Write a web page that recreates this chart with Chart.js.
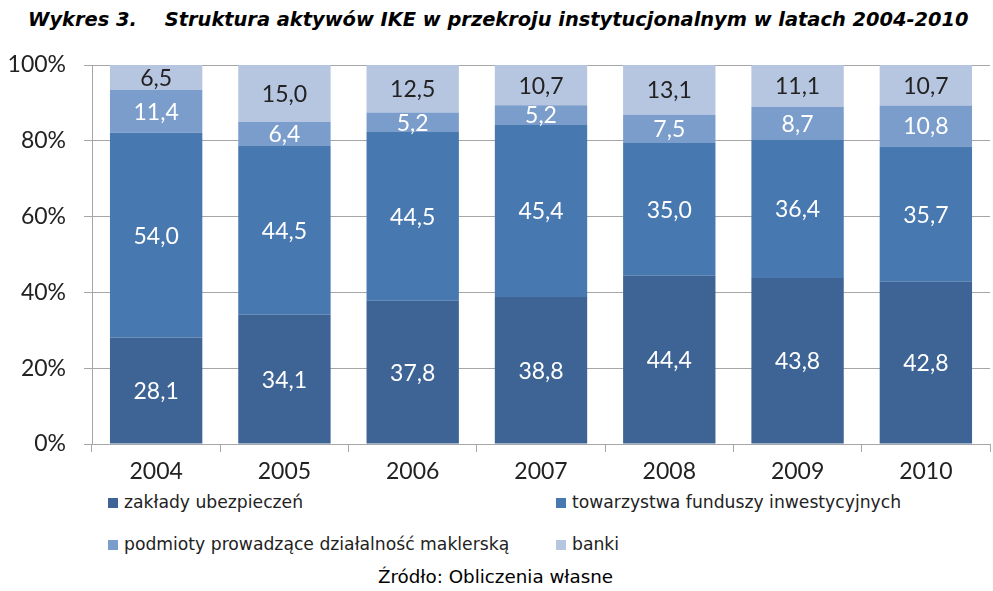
<!DOCTYPE html>
<html>
<head>
<meta charset="utf-8">
<script src="https://cdn.jsdelivr.net/npm/chart.js@4.4.1/dist/chart.umd.min.js"></script>
<style>
    body { margin: 0; background: #fff; }
    #wrap { position: relative; width: 993px; height: 591px; overflow: hidden; }
    #title {
        position: absolute; left: 28px; top: 8px; white-space: nowrap;
        font-family: "DejaVu Sans", sans-serif; font-weight: bold; font-style: italic;
        font-size: 19.4px; color: #000;
    }
    #title span { margin-left: 28px; }
    #chart { position: absolute; left: 0; top: 0; }
    .legend-item {
        position: absolute; white-space: nowrap;
        font-family: "DejaVu Sans", sans-serif; font-size: 17.2px; color: #222;
    }
    .legend-item i {
        display: inline-block; width: 10px; height: 10px; margin-right: 6px;
        vertical-align: 0px;
    }
    #source {
        position: absolute; left: 0; width: 991px; top: 566px; text-align: center;
        font-family: "DejaVu Sans", sans-serif; font-size: 18.3px; color: #000;
    }
</style>
</head>
<body>
<div id="wrap">
    <div id="title">Wykres 3.<span>Struktura aktywów IKE w przekroju instytucjonalnym w latach 2004-2010</span></div>
    <canvas id="chart" width="993" height="490"></canvas>
    <div id="legend"></div>
    <div id="source">Źródło: Obliczenia własne</div>
</div>
<script>
// Data (percent of assets)
const years = ['2004', '2005', '2006', '2007', '2008', '2009', '2010'];
const zaklady = [28.1, 34.1, 37.8, 38.8, 44.4, 43.8, 42.8];
const towarzystwa = [54.0, 44.5, 44.5, 45.4, 35.0, 36.4, 35.7];
const podmioty = [11.4, 6.4, 5.2, 5.2, 7.5, 8.7, 10.8];
const banki = [6.5, 15.0, 12.5, 10.7, 13.1, 11.1, 10.7];
const seriesNames = ['zakłady ubezpieczeń', 'towarzystwa funduszy inwestycyjnych',
    'podmioty prowadzące działalność maklerską', 'banki'];
const yTicks = [0, 20, 40, 60, 80, 100];

const colors = ['#3d6495', '#4878b0', '#7b9dcb', '#b6c5e0'];
const labelColors = ['#ffffff', '#ffffff', '#ffffff', '#222222'];

const chartFont = 'Lato, "Open Sans", sans-serif';

// Draws the value in the middle of every segment
const segmentLabels = {
    id: 'segmentLabels',
    afterDatasetsDraw(chart) {
        const ctx = chart.ctx;
        ctx.save();
        ctx.font = '23px ' + chartFont;
        ctx.textAlign = 'center';
        ctx.textBaseline = 'middle';
        chart.data.datasets.forEach((ds, i) => {
            const meta = chart.getDatasetMeta(i);
            meta.data.forEach((bar, j) => {
                const top = Math.max(bar.y, chart.chartArea.top);
                const mid = (top + bar.base) / 2;
                ctx.fillStyle = labelColors[i];
                ctx.fillText(ds.data[j].toFixed(1).replace('.', ','), bar.x, mid + 1);
            });
        });
        ctx.restore();
    }
};

const ctx = document.getElementById('chart').getContext('2d');
new Chart(ctx, {
    type: 'bar',
    data: {
        labels: years,
        datasets: [zaklady, towarzystwa, podmioty, banki].map((d, i) => ({
            label: seriesNames[i],
            data: d,
            backgroundColor: colors[i],
            borderWidth: 0,
            categoryPercentage: 1,
            barPercentage: 0.72
        }))
    },
    options: {
        responsive: false,
        animation: false,
        layout: { padding: { top: 65, right: 3, left: 0, bottom: 0 } },
        plugins: {
            legend: { display: false },
            title: { display: false },
            tooltip: { enabled: false }
        },
        scales: {
            x: {
                stacked: true,
                offset: true,
                grid: { offset: true, drawOnChartArea: false, color: '#a6a6a6', tickLength: 8 },
                border: { color: '#a6a6a6' },
                ticks: { color: '#222', padding: 6, font: { family: chartFont, size: 23 } },
                afterFit(scale) { scale.height = 46; }
            },
            y: {
                stacked: true,
                min: 0,
                max: 100,
                afterBuildTicks(scale) { scale.ticks = yTicks.map(v => ({ value: v })); },
                grid: { color: '#a6a6a6', tickLength: 8 },
                border: { color: '#a6a6a6' },
                ticks: {
                    color: '#222', padding: 18,
                    font: { family: chartFont, size: 23 },
                    callback: v => v + '%'
                },
                afterFit(scale) { scale.width = 92; }
            }
        }
    },
    plugins: [segmentLabels]
});

// Legend in two columns under the chart
const legendPos = [[108, 492], [556, 492], [108, 534], [556, 534]];
const legend = document.getElementById('legend');
seriesNames.forEach((name, i) => {
    const el = document.createElement('div');
    el.className = 'legend-item';
    el.style.left = legendPos[i][0] + 'px';
    el.style.top = legendPos[i][1] + 'px';
    el.innerHTML = `<i style="background:${colors[i]}"></i>${name}`;
    legend.appendChild(el);
});
</script>
</body>
</html>
